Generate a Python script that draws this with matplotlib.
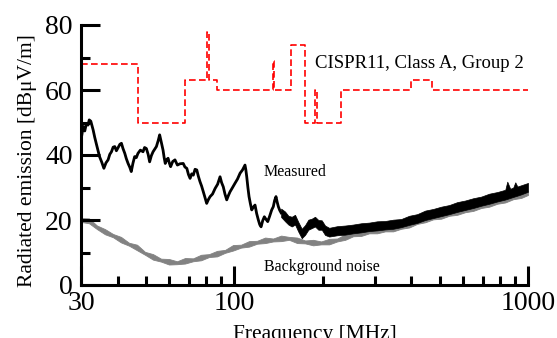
import matplotlib
matplotlib.use('Agg')
import matplotlib.pyplot as plt
from matplotlib.ticker import FixedLocator, NullFormatter

plt.rcParams['font.family'] = ['Liberation Serif', 'DejaVu Serif']

# CISPR11 Class A Group 2 limit (step edges, MHz / dBuV/m)
lim_freq = [30, 47, 68, 80.872, 81.848, 87, 134.786, 136.414, 156, 174,
            188.7, 190.979, 230, 400, 470, 1000]
lim_db = [68, 50, 63, 78, 63, 60, 69, 60, 74, 50, 60, 50, 60, 63, 60, 60]

# Measured emission, low-frequency part (single trace)
meas_freq = [30.0, 30.24, 30.5, 30.9, 31.3, 31.7, 32.0, 32.4, 33.0, 33.4, 33.8,
             34.7, 35.3, 35.9, 36.5, 37.1, 37.6, 38.1, 38.6, 39.1, 39.6, 40.1,
             40.7, 41.2, 41.7, 42.3, 42.8, 43.4, 44.0, 44.5, 45.1, 45.7, 46.3,
             46.9, 47.8, 48.8, 49.4, 50.1, 50.8, 51.4, 52.1, 52.8, 53.5, 54.2,
             55.0, 55.6, 56.3, 57.1, 57.6, 58.1, 58.8, 59.4, 60.0, 60.6, 61.6,
             62.7, 63.9, 65.2, 66.9, 67.8, 68.8, 69.7, 70.6, 71.5, 72.4, 73.4,
             74.4, 75.3, 76.3, 77.3, 78.3, 79.3, 80.4, 81.5, 82.6, 84.2, 85.9,
             87.6, 89.3, 90.4, 91.6, 92.8, 94.1, 95.3, 96.6, 98.5, 100.4, 102.4,
             104.5, 106.5, 108.6, 109.3, 110.1, 111.1, 112.1, 113.3, 114.5,
             116.0, 117.5, 119.0, 120.6, 121.9, 123.2, 124.8, 126.4, 128.1,
             129.8, 131.8, 133.9, 135.6, 137.0, 138.5, 139.8, 141.1, 142.6, 144.2]
meas_db = [44.6, 46.5, 48.8, 47.4, 49.7, 49.2, 50.8, 50.4, 47.7, 45.5, 43.6,
           39.5, 37.8, 35.9, 37.6, 38.5, 40.2, 41.0, 42.4, 42.6, 41.3, 42.2,
           43.3, 43.6, 42.0, 40.5, 38.9, 37.4, 36.2, 34.9, 37.5, 39.5, 39.2,
           40.5, 41.5, 41.0, 42.3, 42.0, 40.2, 37.9, 39.8, 41.0, 41.8, 42.6,
           44.5, 46.2, 44.0, 41.5, 39.2, 37.4, 38.6, 39.0, 37.5, 36.4, 38.0,
           38.5, 36.9, 37.3, 37.4, 36.3, 35.9, 34.0, 32.8, 34.2, 33.8, 35.6,
           35.4, 33.5, 31.8, 30.4, 28.7, 27.0, 25.1, 26.3, 27.2, 28.0, 29.7,
           31.0, 33.3, 31.5, 30.2, 28.0, 26.2, 27.5, 28.7, 30.0, 31.3, 32.6,
           34.4, 35.4, 36.9, 35.5, 33.3, 30.0, 27.2, 25.0, 23.1,
           24.0, 24.6, 22.0, 20.0, 18.6, 17.9, 19.8, 21.0, 20.2,
           19.5, 21.2, 23.1, 24.1, 26.0, 27.2, 25.5, 24.1, 23.0, 22.2]

# Measured emission, high-frequency part (dense noisy band: lower / upper edge)
band_freq = [144.2, 148.7, 152.6, 156.7, 160.8, 165.0, 169.5, 173.9, 178.5,
             183.3, 188.1, 193.1, 198.3, 203.5, 210.2, 223.8, 238.3, 253.7,
             270.2, 287.7, 306.3, 326.2, 347.3, 369.8, 393.8, 419.3, 446.5,
             475.4, 506.2, 539.0, 574.0, 611.2, 650.8, 693.0, 737.9, 785.7,
             836.6, 850.0, 870.0, 890.8, 905.0, 920.0, 948.6, 1000.0]
band_lo = [20.9, 19.6, 18.6, 18.0, 18.6, 16.4, 14.4, 15.4, 17.0,
           17.5, 18.0, 17.0, 17.0, 15.4, 14.9, 15.3, 15.5, 15.9,
           16.2, 16.6, 16.8, 17.1, 17.3, 17.8, 18.5, 19.1, 20.0,
           20.6, 21.2, 21.8, 22.5, 23.1, 23.7, 24.4, 25.0, 25.7,
           26.3, 26.5, 26.8, 27.1, 27.3, 27.5, 27.9, 28.7]
band_hi = [23.5, 22.6, 21.3, 21.0, 21.6, 19.4, 17.3, 18.4, 20.1,
           20.4, 21.0, 20.0, 19.9, 18.3, 17.6, 18.1, 18.3, 18.6,
           19.0, 19.2, 19.6, 19.7, 20.1, 20.3, 21.3, 21.8, 22.9,
           23.4, 24.1, 24.6, 25.5, 26.0, 26.7, 27.2, 28.1, 28.6,
           29.3, 31.8, 29.6, 30.0, 31.6, 30.3, 30.7, 31.4]

# Background noise band (lower / upper edge)
bg_freq = [30.0, 31.94, 34.01, 36.22, 38.56, 41.06, 43.72, 46.56, 49.57, 52.79,
           56.21, 59.85, 63.73, 67.86, 72.26, 76.94, 81.93, 87.24, 92.89, 98.91,
           105.3, 112.1, 119.4, 127.2, 135.4, 144.2, 153.5, 163.5, 174.1, 185.3,
           197.4, 210.2, 223.8, 238.3, 253.7, 270.2, 287.7, 306.3, 326.2, 347.3,
           369.8, 393.8, 419.3, 446.5, 475.4, 506.2, 539.0, 574.0, 611.2, 650.8,
           693.0, 737.9, 785.7, 836.6, 890.8, 948.6, 1000.0]
bg_lo = [19.4, 19.0, 17.2, 15.6, 14.7, 13.1, 12.1, 10.7, 9.3, 7.8,
         7.2, 6.3, 6.4, 6.6, 7.3, 7.6, 8.6, 8.8, 9.9, 10.6,
         11.5, 11.8, 12.7, 12.9, 13.4, 13.5, 13.9, 12.9, 12.8, 12.2,
         12.5, 12.5, 13.4, 13.9, 15.0, 15.1, 15.9, 15.9, 16.5, 16.5,
         17.3, 17.7, 18.8, 19.3, 20.2, 20.4, 21.3, 21.6, 22.4, 22.8,
         23.7, 24.1, 25.0, 25.4, 26.4, 26.8, 27.7]
bg_hi = [20.6, 20.5, 18.3, 17.2, 15.7, 14.8, 13.0, 12.4, 10.2, 9.5,
         8.1, 8.0, 7.3, 8.3, 8.2, 9.3, 9.5, 10.5, 10.8, 12.3,
         12.4, 13.5, 13.6, 14.6, 14.3, 15.2, 14.8, 14.6, 13.7, 13.9,
         13.4, 14.2, 14.3, 15.6, 15.9, 16.8, 16.8, 17.6, 17.4, 18.2,
         18.2, 19.4, 19.7, 21.0, 21.1, 22.1, 22.2, 23.3, 23.3, 24.5,
         24.6, 25.8, 25.9, 27.1, 27.3, 28.5, 28.8]

x_major = [30, 100, 1000]
x_minor = [40, 50, 60, 70, 80, 90, 200, 300, 400, 500, 600, 700, 800, 900]
y_major = [0, 20, 40, 60, 80]
y_minor = [10, 30, 50, 70]

fig = plt.figure(figsize=(5.57, 3.38), dpi=100)
ax = fig.add_axes([81 / 557, 53 / 338, 447 / 557, 260 / 338])

ax.fill_between(bg_freq, bg_lo, bg_hi, color='#828282', lw=0.6)
ax.plot(meas_freq, meas_db, color='black', lw=2.0)
ax.fill_between(band_freq, band_lo, band_hi, color='black', lw=0.5)
ax.plot(lim_freq, lim_db, drawstyle='steps-post', color='#ff0000', lw=1.2,
        dashes=(4, 2))

ax.set_xscale('log')
ax.set_xlim(30, 1000)
ax.set_ylim(0, 80)

ax.xaxis.set_major_locator(FixedLocator(x_major))
ax.xaxis.set_minor_locator(FixedLocator(x_minor))
ax.set_xticklabels([str(v) for v in x_major])
ax.xaxis.set_minor_formatter(NullFormatter())
ax.yaxis.set_major_locator(FixedLocator(y_major))
ax.yaxis.set_minor_locator(FixedLocator(y_minor))

for side in ['top', 'right']:
    ax.spines[side].set_visible(False)
for side in ['left', 'bottom']:
    ax.spines[side].set_linewidth(2.2)

ax.tick_params(which='major', direction='in', length=13.5, width=2.2,
               labelsize=20)
ax.tick_params(which='minor', direction='in', length=6.5, width=2.2)
ax.tick_params(axis='y', which='major', pad=6)
ax.tick_params(axis='x', which='major', pad=4)

ax.text(188.1, 68.3, 'CISPR11, Class A, Group 2', fontsize=13.5,
        ha='left', va='center')
ax.text(126, 34.8, 'Measured', fontsize=11.5, ha='left', va='center')
ax.text(126, 5.5, 'Background noise', fontsize=11.5, ha='left', va='center')

ax.set_ylabel('Radiated emission [dBμV/m]', fontsize=15.5)
ax.yaxis.set_label_coords(-0.098, 0.477)
ax.set_xlabel('Freaquency [MHz]', fontsize=15.5)
ax.xaxis.set_label_coords(0.523, -0.155)

fig.savefig('out.png', dpi=100)
